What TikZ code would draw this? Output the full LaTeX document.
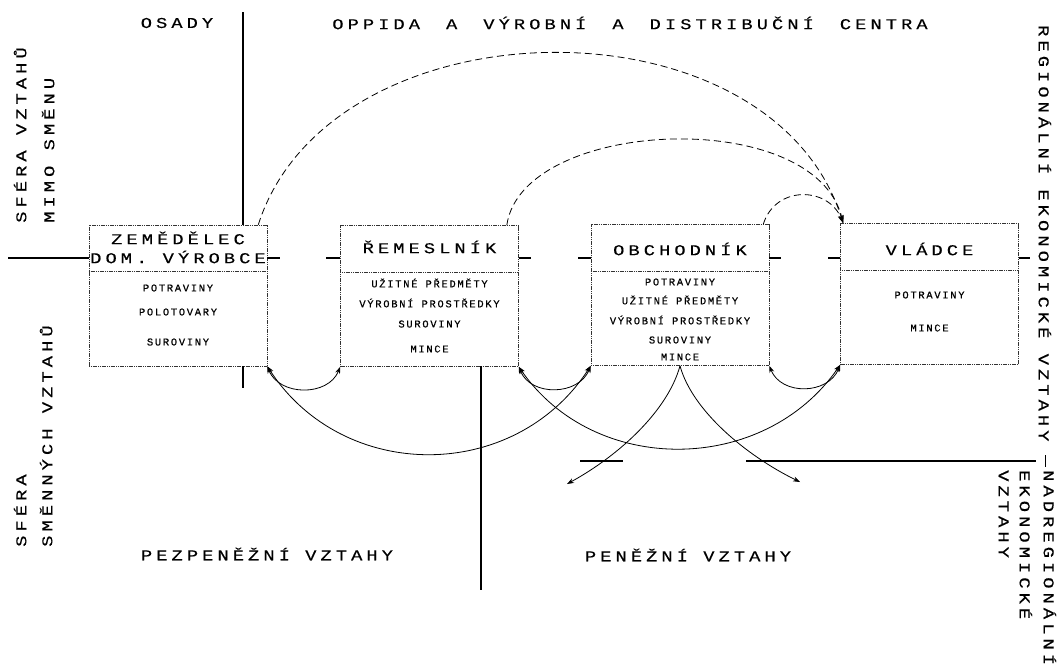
\documentclass[tikz,border=0pt]{standalone}
\usepackage{fontspec}
\setmainfont{Liberation Serif}
\newfontfamily\labfont[FakeStretch=1.25,LetterSpace=27,FakeBold=0.3]{Liberation Mono}
\newfontfamily\itemfont[LetterSpace=16,FakeBold=0.3]{Liberation Mono}
\usetikzlibrary{arrows.meta}
\tikzset{
 boxs/.style={draw=black!80, line width=0.6pt, dash pattern=on 1.2pt off 0.6pt, minimum width=178pt, minimum height=141pt, inner sep=0pt},
 divl/.style={draw=black!80, line width=0.6pt, dash pattern=on 1.2pt off 0.6pt},
 lab/.style={font=\labfont\fontsize{15}{17}\selectfont, inner sep=0pt},
 ttl/.style={font=\labfont\fontsize{15}{17}\selectfont, inner sep=0pt},
 itm/.style={font=\itemfont\fontsize{10.5}{12}\selectfont, inner sep=0pt},
 sepline/.style={line width=1.5pt},
 flow/.style={line width=0.8pt, {Stealth[length=7pt,width=5pt]}-{Stealth[length=7pt,width=5pt]}},
 outflow/.style={line width=0.8pt, -{Stealth[length=7pt,width=5pt]}},
 dflow/.style={line width=0.8pt, dash pattern=on 7pt off 4pt, -{Stealth[length=8pt,width=5pt]}},
}
\newcommand\wsp{\hspace{26pt}}
\begin{document}
\begin{tikzpicture}[x=1pt,y=-1pt]
\fill[white] (0,0) rectangle (1057,665);
\useasboundingbox (0,0) rectangle (1057,665);

% boxes
\node[boxs] (b1) at (178,295.5) {};
\node[boxs] (b2) at (429.5,296) {};
\node[boxs] (b3) at (680,295) {};
\node[boxs] (b4) at (929.5,294) {};
\foreach \b in {b1,b2,b3,b4}{
  \draw[divl] ([yshift=-47pt]\b.north west) -- ([yshift=-47pt]\b.north east);
}

% titles
\node[ttl] (t1a) at (178,238) {ZEMĚDĚLEC};
\node[ttl] (t1b) at (178,257) {DOM. VÝROBCE};
\node[ttl] (t2) at (429.5,247) {ŘEMESLNÍK};
\node[ttl] (t3) at (680,249) {OBCHODNÍK};
\node[ttl] (t4) at (929.5,249) {VLÁDCE};

% items
\node[itm] (i11) at (178,288) {POTRAVINY};
\node[itm] (i12) at (178,312) {POLOTOVARY};
\node[itm] (i13) at (178,342) {SUROVINY};
\node[itm] (i21) at (429.5,283) {UŽITNÉ PŘEDMĚTY};
\node[itm] (i22) at (429.5,303) {VÝROBNÍ PROSTŘEDKY};
\node[itm] (i23) at (429.5,324) {SUROVINY};
\node[itm] (i24) at (429.5,349) {MINCE};
\node[itm] (i31) at (680,282) {POTRAVINY};
\node[itm] (i32) at (680,300) {UŽITNÉ PŘEDMĚTY};
\node[itm] (i33) at (680,320) {VÝROBNÍ PROSTŘEDKY};
\node[itm] (i34) at (680,340) {SUROVINY};
\node[itm] (i35) at (680,357) {MINCE};
\node[itm] (i41) at (929.5,295) {POTRAVINY};
\node[itm] (i42) at (929.5,328) {MINCE};

% region labels
\node[lab] (osady) at (177,23) {OSADY};
\node[lab] (oppida) at (630,23) {OPPIDA\wsp A\wsp VÝROBNÍ\wsp A\wsp DISTRIBUČNÍ\wsp CENTRA};
\node[lab, rotate=90, anchor=base west] (sf1) at (26.3,223) {SFÉRA VZTAHŮ};
\node[lab, rotate=90, anchor=base west] (sf2) at (54.3,223) {MIMO SMĚNU};
\node[lab, rotate=90, anchor=base west] (sf3) at (26.3,547) {SFÉRA};
\node[lab, rotate=90, anchor=base west] (sf4) at (52.3,547) {SMĚNNÝCH VZTAHŮ};
\node[lab] (pezpen) at (267,554) {PEZPENĚŽNÍ VZTAHY};
\node[lab] (pen) at (688,555) {PENĚŽNÍ VZTAHY};
\node[lab, rotate=-90, anchor=base west] (reg) at (1038.7,25) {REGIONÁLNÍ EKONOMICKÉ VZTAHY};
\node[lab, rotate=-90, anchor=base west] (nad1) at (1043.7,470) {NADREGIONÁLNÍ};
\node[lab, rotate=-90, anchor=base west] (nad2) at (1019.7,470) {EKONOMICKÉ};
\node[lab, rotate=-90, anchor=base west] (nad3) at (998.7,470) {VZTAHY};

% separating lines
\coordinate (ltop) at (243,12);
\draw[sepline] (ltop) -- (ltop |- b1.north);
\draw[sepline] (243,366) -- (243,388);
\draw[sepline] (481,366) -- (481,590);
\draw[sepline] (8,258) -- (b1.west |- 0,258);
\draw[sepline] (b1.east |- 0,258) -- (280,258);
\draw[sepline] (326,258) -- (b2.west |- 0,258);
\draw[sepline] (b2.east |- 0,258) -- (531,258);
\draw[sepline] (578,258) -- (b3.west |- 0,258);
\draw[sepline] (b3.east |- 0,258) -- (781,258);
\draw[sepline] (828,258) -- (b4.west |- 0,258);
\draw[sepline] (b4.east |- 0,258) -- (1030,258);
\draw[sepline] (580,461) -- (623,461);
\draw[sepline] (746,461) -- (1036,461);
\draw[line width=1pt] (1045,455) -- (1045,467);

% dashed flows to the ruler
\draw[dflow] ([xshift=-9pt]b1.north east) .. controls (330,0) and (770,-8) .. ([xshift=3pt]b4.north west);
\draw[dflow] ([xshift=-12pt]b2.north east) .. controls (522,118) and (815,105) .. ([xshift=3pt]b4.north west);
\draw[dflow] ([xshift=-6pt]b3.north east) .. controls +(12,-39) and +(-15,-37) .. ([xshift=3pt]b4.north west);

% exchange arcs
\draw[flow] (b1.south east) .. controls +(12,30) and +(-12,30) .. (b2.south west);
\draw[flow] (b2.south east) .. controls +(12,30) and +(-12,30) .. (b3.south west);
\draw[flow] (b3.south east) .. controls +(12,30) and +(-12,30) .. (b4.south west);
\draw[flow] (b1.south east) .. controls +(76,117) and +(-76,117) .. (b3.south west);
\draw[flow] (b2.south east) .. controls +(76,110) and +(-76,110) .. (b4.south west);

% outflows from the merchant
\coordinate (outL) at (567,484);
\coordinate (outR) at (800,482);
\draw[outflow] (b3.south) .. controls (668,410) and (620,455) .. (outL);
\draw[outflow] (b3.south) .. controls (692,410) and (745,455) .. (outR);
\end{tikzpicture}
\end{document}
